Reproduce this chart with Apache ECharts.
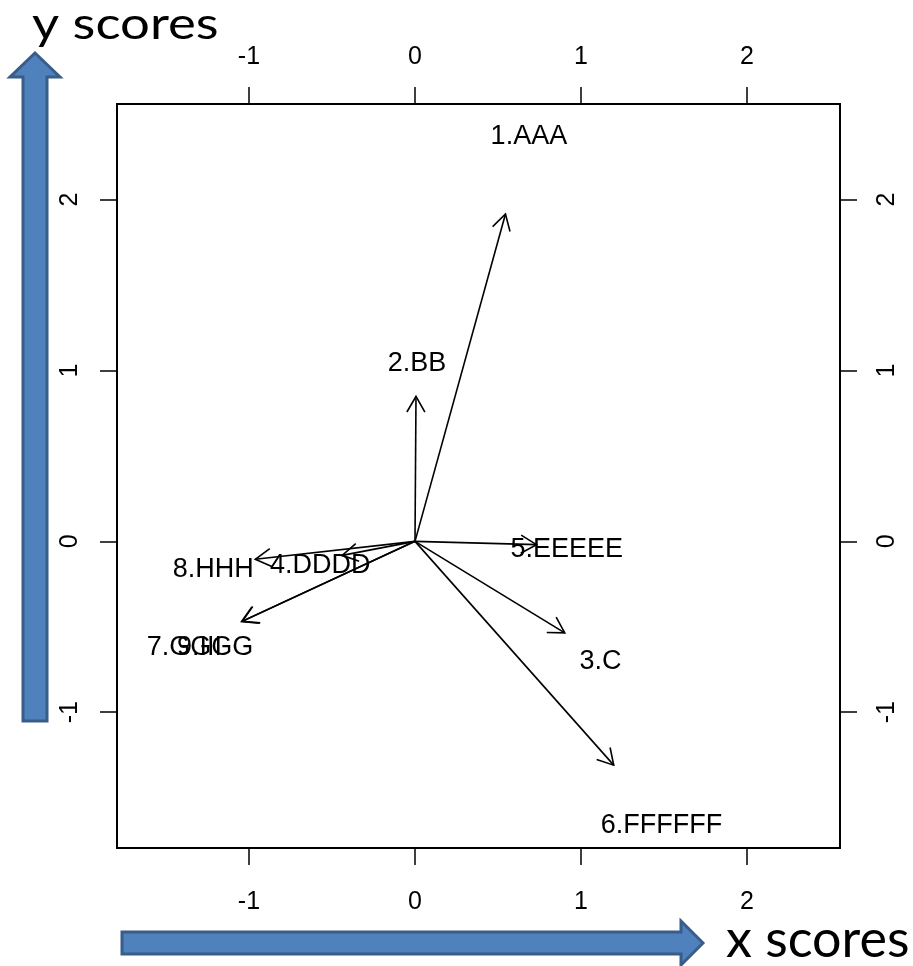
<!DOCTYPE html>
<html>
<head>
<meta charset="utf-8">
<script src="https://cdn.jsdelivr.net/npm/echarts@6/dist/echarts.min.js"></script>
<style>
html,body{margin:0;padding:0;background:#fff;}
#chart{width:913px;height:966px;}
</style>
</head>
<body>
<div id="chart"></div>
<script>
// variable names (labels)
const names = ['1.AAA', '2.BB', '3.C', '4.DDDD', '5.EEEEE', '6.FFFFFF', '7.GGGG', '8.HHH', '9.III'];
// arrow tips (x scores, y scores)
const arrowX = [0.545, 0.006, 0.902, -0.439, 0.732, 1.197, -1.040, -0.962, -1.045];
const arrowY = [1.916, 0.848, -0.536, -0.082, -0.019, -1.310, -0.468, -0.105, -0.470];
// label positions
const labelX = [0.686, 0.012, 1.118, -0.571, 0.914, 1.485, -1.295, -1.215, -1.298];
const labelY = [2.368, 1.041, -0.702, -0.140, -0.047, -1.661, -0.620, -0.164, -0.620];
// tick labels
const ticks = [-1, 0, 1, 2];
const axisMin = -1.795, axisMax = 2.56;

const chart = echarts.init(document.getElementById('chart'), null, {renderer: 'canvas'});

const FONT = 'Liberation Sans, Arial, Helvetica, sans-serif';

function axisCommon(pos, rotate, margin) {
  return {
    type: 'value',
    position: pos,
    min: axisMin,
    max: axisMax,
    axisLine: {show: true, onZero: false, lineStyle: {color: '#000', width: 2}},
    axisTick: {show: true, inside: false, length: 17, customValues: ticks, lineStyle: {color: '#000', width: 1.5}},
    axisLabel: {show: true, customValues: ticks, rotate: rotate, margin: margin, color: '#000', fontSize: 25, fontFamily: FONT},
    splitLine: {show: false}
  };
}

const arrowData = arrowX.map((x, i) => [x, arrowY[i]]);
const labelData = labelX.map((x, i) => [x, labelY[i], names[i]]);

const option = {
  backgroundColor: '#fff',
  animation: false,
  grid: {left: 117, top: 104, width: 723, height: 744, show: false},
  xAxis: [axisCommon('bottom', 0, 42), axisCommon('top', 0, 34)],
  yAxis: [axisCommon('left', 90, 34), axisCommon('right', 90, 35)],
  series: [
    {
      type: 'custom',
      name: 'arrows',
      clip: false,
      data: arrowData,
      renderItem: function (params, api) {
        const o = api.coord([0, 0]);
        const t = api.coord([api.value(0), api.value(1)]);
        const ang = Math.atan2(t[1] - o[1], t[0] - o[0]);
        const hl = 18, ha = Math.PI / 6;
        const p1 = [t[0] - hl * Math.cos(ang - ha), t[1] - hl * Math.sin(ang - ha)];
        const p2 = [t[0] - hl * Math.cos(ang + ha), t[1] - hl * Math.sin(ang + ha)];
        return {
          type: 'group',
          children: [
            {type: 'line', shape: {x1: o[0], y1: o[1], x2: t[0], y2: t[1]}, style: {stroke: '#000', lineWidth: 1.6}},
            {type: 'polyline', shape: {points: [p1, t, p2]}, style: {stroke: '#000', fill: null, lineWidth: 1.6}}
          ]
        };
      }
    },
    {
      type: 'custom',
      name: 'labels',
      clip: false,
      data: labelData,
      renderItem: function (params, api) {
        const p = api.coord([api.value(0), api.value(1)]);
        return {
          type: 'text',
          x: p[0], y: p[1],
          style: {text: names[params.dataIndex], align: 'center', verticalAlign: 'middle', fontSize: 27, fontFamily: FONT, fill: '#000'}
        };
      }
    }
  ],
  graphic: [
    {
      type: 'rect', silent: true,
      shape: {x: 117, y: 104, width: 723, height: 744},
      style: {fill: null, stroke: '#000', lineWidth: 2}
    },
    {
      type: 'polygon', silent: true,
      shape: {points: [[35, 53], [60, 77], [47, 77], [47, 721], [23, 721], [23, 77], [10, 77]]},
      style: {fill: '#4F81BD', stroke: '#385D8A', lineWidth: 3}
    },
    {
      type: 'polygon', silent: true,
      shape: {points: [[703, 943], [681, 921], [681, 932], [122, 932], [122, 954], [681, 954], [681, 965]]},
      style: {fill: '#4F81BD', stroke: '#385D8A', lineWidth: 3}
    },
    {
      type: 'text', silent: true, x: 32, y: 24, scaleX: 1.17,
      style: {text: 'y scores', fontSize: 45, fontFamily: 'Lato, sans-serif', fill: '#000', align: 'left', verticalAlign: 'middle'}
    },
    {
      type: 'text', silent: true, x: 726, y: 940,
      style: {text: 'x scores', fontSize: 52, fontFamily: 'Lato, sans-serif', fill: '#000', align: 'left', verticalAlign: 'middle'}
    }
  ]
};
chart.setOption(option);
</script>
</body>
</html>
